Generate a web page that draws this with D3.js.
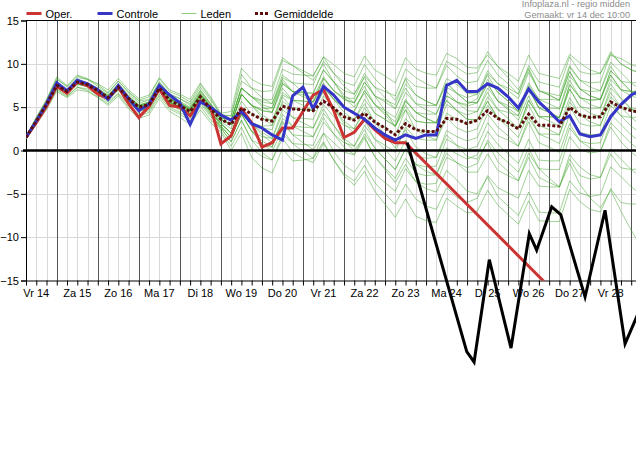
<!DOCTYPE html>
<html><head><meta charset="utf-8">
<script src="https://cdn.jsdelivr.net/npm/d3@7"></script>
<style>
body{margin:0;background:#fff}
svg{display:block}
text{font-family:"Liberation Sans",Arial,sans-serif}
</style>
</head><body>
<svg id="chart" width="636" height="476"></svg>
<script>
// ---------- data ----------
const dagLabels = ["Vr 14","Za 15","Zo 16","Ma 17","Di 18","Wo 19","Do 20","Vr 21","Za 22","Zo 23","Ma 24","Di 25","Wo 26","Do 27","Vr 28"];
const yTicks = [15,10,5,0,-5,-10,-15];
const startUur = 6;   // first value: Vr 14 06:00 (hours since Vr 14 00:00)
const stapUur = 6;    // 6-hourly values

const oper = [1.5,3.2,5.1,7.4,6.6,7.9,7.5,6.5,6.0,7.3,5.4,3.8,5.1,7.1,5.2,5.0,4.0,5.7,5.0,0.75,1.7,4.8,3.2,0.4,0.9,2.6,2.6,4.5,6.4,7.0,4.6,1.5,2.1,3.6,2.4,1.4,0.9,0.9,
  null,null,null,null,null,null,null,null,null,null,null,null,null,null,null,null,null,null,null,null,null,null,-26.4];
const controle = [1.5,3.4,5.4,7.8,6.9,8.1,7.7,7.0,5.9,7.5,6.0,4.6,5.4,7.5,6.4,5.5,3.0,5.6,5.0,4.1,3.5,4.5,3.1,2.6,1.8,1.2,6.3,7.3,4.8,7.4,6.4,5.0,4.3,3.6,2.6,1.8,1.2,1.8,1.4,1.8,1.8,7.5,8.1,6.8,6.8,7.7,7.2,6.2,4.9,7.1,5.6,4.5,3.3,4.0,1.9,1.6,1.8,3.9,5.3,6.4,7.0];
const gemiddelde = [1.5,3.4,5.3,7.5,6.8,7.9,7.6,6.9,6.1,7.3,6.0,5.0,5.3,7.2,5.8,5.2,4.5,6.2,4.8,3.6,3.0,4.9,4.2,3.6,3.4,5.1,4.8,4.7,4.6,5.7,4.9,3.9,3.5,4.3,3.3,2.6,1.8,3.1,2.4,2.2,2.2,3.7,3.6,3.1,3.5,4.6,3.7,3.2,2.5,4.2,2.9,2.9,2.8,5.0,4.1,3.8,3.9,5.6,5.0,4.6,4.4];

// black line (hours since Vr 14 00:00, value)
const zwartUren = [229,263.8,268.1,277,289.7,300.4,304.7,313.5,318.8,333,344.7,356.4,365.8];
const zwartWaarden = [0.9,-23.2,-24.4,-12.6,-22.8,-9.6,-11.5,-6.5,-7.4,-16.9,-6.9,-22.3,-18.0];

const lid01 = [1.5,3.5,5.5,7.8,7.0,8.2,7.8,7.2,6.4,7.7,6.5,5.5,5.8,7.9,6.5,6.0,5.2,7.0,5.4, 3.8,3.5,7.2,6.2,5.8,5.9,9.4,8.8,8.7,8.6,10.8,9.9,8.9,8.5,10.9,9.3,8.6,7.8,10.7,9.4,8.9,8.7,11.2,10.6,9.6,9.5,11.0,9.7,8.9,8.0,11.0,8.9,8.6,8.3,11.1,10.1,9.3,8.9,11.4,10.0,9.3,8.9];
const lid02 = [1.6,3.8,5.9,8.5,7.5,8.7,8.3,7.6,6.7,8.0,6.8,5.8,6.2,8.3,6.8,6.3,5.6,7.6,6.0, 4.1,4.0,8.8,7.2,6.8,6.9,10.4,9.8,9.2,8.6,10.8,8.9,7.4,6.5,8.4,6.3,5.8,5.3,8.4,7.4,7.2,7.2,10.3,9.6,8.8,9.0,11.4,9.7,8.4,7.0,9.5,6.9,6.6,6.3,9.8,8.1,7.8,7.9,11.2,10.0,9.3,8.9];
const lid03 = [1.4,3.3,5.2,7.4,6.9,7.8,7.5,6.7,5.8,7.0,5.7,4.6,5.0,6.9,5.5,5.0,4.6,6.6,5.0, 3.6,3.0,6.5,5.2,4.6,4.4,7.7,6.8,6.7,6.6,9.3,7.9,6.9,6.5,8.9,7.3,6.1,4.8,7.2,5.4,4.7,4.2,6.8,5.6,5.3,6.0,8.9,7.7,7.2,6.5,9.8,7.9,7.6,7.3,10.8,9.1,8.8,8.9,11.0,10.6,9.9,9.5];
const lid04 = [1.5,3.7,5.7,8.2,7.4,8.6,8.2,7.7,7.0,8.3,7.0,6.0,6.4,8.4,7.0,6.5,5.9,7.8,6.2, 4.3,4.5,9.5,8.2,7.6,7.4,10.7,9.8,8.9,8.1,10.0,7.9,6.4,5.5,7.4,5.3,4.6,3.8,6.7,5.4,5.2,5.2,8.3,7.6,6.6,6.5,8.7,6.7,5.7,4.5,7.3,4.9,4.9,4.8,8.6,7.1,6.8,6.9,10.2,9.0,7.8,6.9];
const lid05 = [1.5,3.4,5.3,7.6,6.7,7.9,7.7,7.0,6.2,7.4,6.1,5.2,5.5,7.4,6.0,5.5,4.9,6.5,5.2, 3.8,3.5,7.2,6.2,5.1,4.4,7.2,5.8,5.7,5.6,8.3,6.9,6.1,6.0,8.6,7.3,6.8,6.3,9.4,8.4,7.7,7.2,9.8,8.6,7.8,8.0,10.4,8.7,7.7,6.5,9.3,6.9,6.4,5.8,9.1,7.1,6.3,5.9,8.7,7.0,6.3,5.9];
const lid06 = [1.6,3.5,5.4,7.5,6.9,8.0,7.6,6.9,6.0,7.3,5.9,4.9,5.4,7.3,6.1,5.6,4.8,6.8,5.3, 3.6,3.0,6.5,5.2,4.8,4.9,8.4,7.8,7.7,7.6,10.3,8.9,7.9,7.5,9.9,8.3,7.1,5.8,8.2,6.4,5.7,5.2,7.8,6.6,5.6,5.5,7.7,5.7,5.2,4.5,7.8,5.9,5.9,5.8,9.6,8.1,7.3,6.9,9.7,8.0,6.8,5.9];
const lid07 = [1.4,3.3,5.2,7.3,6.6,7.7,7.4,6.8,6.1,7.2,6.0,5.1,5.3,7.1,5.9,5.3,4.6,6.4,5.0, 3.8,3.5,7.2,6.2,5.3,4.9,7.9,6.8,6.2,5.6,7.8,5.9,4.9,4.5,6.9,5.3,4.3,3.3,5.9,4.4,4.2,4.2,7.3,6.6,6.1,6.5,9.2,7.7,6.9,6.0,9.0,6.9,6.4,5.8,9.1,7.1,6.3,5.9,8.7,7.0,6.8,6.9];
const lid08 = [1.5,3.4,5.3,7.5,6.8,7.9,7.5,6.8,5.9,7.1,5.8,4.8,5.1,7.0,5.6,4.9,4.2,5.9,4.5, 3.1,2.0,5.0,3.2,2.8,2.9,6.4,5.8,5.7,5.6,8.3,6.9,5.9,5.5,7.9,6.3,5.6,4.8,7.7,6.4,5.7,5.2,7.8,6.6,5.6,5.5,7.7,5.7,4.7,3.5,6.3,3.9,3.9,3.8,7.6,6.1,5.8,5.9,9.2,8.0,7.8,7.9];
const lid09 = [1.5,3.4,5.2,7.4,6.7,7.8,7.7,7.0,6.3,7.5,6.2,5.2,5.6,7.5,6.0,5.4,4.7,6.3,4.9, 3.6,3.0,6.5,5.2,4.1,3.4,6.2,4.8,4.7,4.6,7.3,5.9,4.9,4.5,6.9,5.3,4.1,2.8,5.2,3.4,3.2,3.2,6.3,5.6,4.6,4.5,6.7,4.7,4.4,4.0,7.5,5.9,5.4,4.8,8.1,6.1,5.3,4.9,7.7,6.0,4.8,3.9];
const lid10 = [1.7,3.8,5.8,8.3,7.3,8.4,8.2,7.4,6.6,8.0,6.7,5.7,5.9,7.9,6.5,6.0,5.4,7.3,5.8, 4.1,4.0,8.0,7.2,6.1,5.4,8.2,6.8,6.7,6.6,9.3,7.9,6.1,5.0,6.6,4.3,3.6,2.8,5.7,4.4,3.7,3.2,5.8,4.6,4.1,4.5,7.2,5.7,4.9,4.0,7.0,4.9,4.4,3.8,7.1,5.1,4.8,4.9,8.2,7.0,6.8,6.9];
const lid11 = [1.5,3.4,5.3,7.4,6.8,7.9,7.6,6.9,6.1,7.2,6.0,5.0,5.3,7.1,5.8,5.2,4.5,6.2,4.8, 3.3,2.5,5.7,4.2,3.6,3.4,6.7,5.8,5.2,4.6,6.8,4.9,3.9,3.5,5.9,4.3,3.6,2.8,5.7,4.4,3.7,3.2,5.8,4.6,3.6,3.5,5.7,3.7,3.2,2.5,5.8,3.9,3.9,3.8,7.6,6.1,5.8,5.9,9.2,8.0,6.8,5.9];
const lid12 = [1.4,3.3,5.1,7.3,6.6,7.6,7.4,6.7,5.9,7.0,5.8,4.8,5.1,6.9,5.5,4.9,4.2,5.8,4.4, 3.1,2.0,5.0,3.2,2.6,2.4,5.7,4.8,4.7,4.6,7.3,5.9,4.4,3.5,5.4,3.3,2.6,1.8,4.7,3.4,3.2,3.2,6.3,5.6,5.1,5.5,8.2,6.7,5.7,4.5,7.3,4.9,4.4,3.8,7.1,5.1,4.3,3.9,6.7,5.0,4.8,4.9];
const lid13 = [1.5,3.5,5.4,7.6,6.9,8.0,7.6,7.0,6.2,7.4,6.2,5.2,5.5,7.4,6.0,5.5,4.8,6.6,5.2, 3.6,3.0,6.5,5.2,4.6,4.4,7.7,6.8,6.4,6.1,8.5,6.9,5.9,5.5,7.9,6.3,4.6,2.8,4.7,2.4,1.7,1.2,3.8,2.6,2.1,2.5,5.2,3.7,3.2,2.5,5.8,3.9,3.4,2.8,6.1,4.1,3.3,2.9,5.7,4.0,3.8,3.9];
const lid14 = [1.4,3.2,5.0,7.1,6.3,7.3,7.1,6.4,5.6,6.6,5.3,4.2,4.6,6.5,5.0,4.4,3.7,5.4,3.9, 2.8,1.5,4.2,2.2,1.6,1.4,4.7,3.8,3.7,3.6,6.3,4.9,3.4,2.5,4.4,2.3,1.6,0.8,3.7,2.4,2.2,2.2,5.3,4.6,3.6,3.5,5.7,3.7,2.7,1.5,4.3,1.9,1.9,1.8,5.6,4.1,3.8,3.9,7.2,6.0,4.8,3.9];
const lid15 = [1.6,3.5,5.5,7.7,7.0,8.1,7.8,7.1,6.4,7.6,6.3,5.3,5.6,7.6,6.3,5.7,5.0,6.9,5.4, 3.8,3.5,7.2,6.2,5.6,5.4,8.7,7.8,6.7,5.6,7.3,4.9,3.1,2.0,3.6,1.3,0.6,-0.2,2.7,1.4,1.2,1.2,4.3,3.6,3.1,3.5,6.2,4.7,3.7,2.5,5.3,2.9,2.4,1.8,5.1,3.1,2.8,2.9,6.2,5.0,3.8,2.9];
const lid16 = [1.5,3.4,5.2,7.4,6.7,7.8,7.5,6.8,5.9,7.1,5.7,4.7,5.1,7.0,5.5,4.9,4.2,6.0,4.4, 3.1,2.0,5.0,3.2,2.1,1.4,4.2,2.8,2.7,2.6,5.3,3.9,2.9,2.5,4.9,3.3,1.8,0.3,2.4,0.4,-0.4,-0.8,1.8,0.6,0.1,0.5,3.2,1.7,1.2,0.5,3.8,1.9,1.4,0.8,4.1,2.1,1.8,1.9,5.2,4.0,2.8,1.9];
const lid17 = [1.3,3.1,4.9,7.0,6.2,7.3,6.9,6.2,5.4,6.5,5.0,4.0,4.4,6.3,4.8,4.2,3.4,5.1,3.5, 2.6,1.0,3.5,1.2,0.6,0.4,3.7,2.8,2.2,1.6,3.8,1.9,0.9,0.5,2.9,1.3,0.1,-1.2,1.2,-0.6,-0.9,-0.8,2.3,1.6,1.1,1.5,4.2,2.7,1.7,0.5,3.3,0.9,0.4,-0.2,3.1,1.1,0.8,0.9,4.2,3.0,1.8,0.9];
const lid18 = [1.5,3.4,5.2,7.3,6.6,7.7,7.3,6.6,5.8,7.0,5.6,4.5,4.8,6.8,5.3,4.7,3.9,5.6,4.1, 2.8,1.5,4.2,2.2,0.8,-0.1,2.4,0.8,0.7,0.6,3.3,1.9,0.4,-0.5,1.4,-0.7,-2.0,-3.2,-0.9,-2.6,-2.9,-2.8,0.3,-0.4,-1.0,-0.5,2.2,0.7,-0.4,-1.5,1.3,-1.1,-1.2,-1.2,2.6,1.1,0.3,-0.1,2.7,1.0,-0.2,-1.1];
const lid19 = [1.3,3.0,4.7,6.8,6.1,7.0,6.8,6.1,5.2,6.3,4.8,3.7,4.1,6.0,4.5,3.8,3.0,4.7,3.2, 2.1,0.0,2.0,-0.8,-2.0,-2.6,0.2,-1.2,-1.1,-0.9,2.0,0.9,-0.2,-0.5,1.9,0.3,-1.0,-2.2,0.2,-1.6,-2.4,-2.8,-0.3,-1.4,-2.5,-2.5,-0.4,-2.3,-2.9,-3.5,-0.3,-2.1,-2.2,-2.2,1.6,0.1,-0.3,-0.1,3.2,2.0,0.8,-0.1];
const lid20 = [1.5,3.3,5.2,7.4,6.6,7.7,7.4,6.7,5.9,7.0,5.6,4.6,4.9,6.9,5.4,4.8,4.0,5.8,4.2, 2.6,1.0,3.5,1.2,-0.2,-1.1,1.4,-0.2,-0.9,-1.4,0.8,-1.1,-2.7,-3.5,-1.7,-3.7,-5.0,-6.2,-3.9,-5.6,-6.4,-6.8,-4.3,-5.4,-6.0,-5.5,-2.9,-4.3,-4.9,-5.5,-2.3,-4.1,-4.2,-4.2,-0.5,-1.9,-2.8,-3.1,-0.4,-2.0,-2.2,-2.1];
const lid21 = [1.5,3.4,5.3,7.5,6.7,7.8,7.5,6.7,5.8,7.1,5.7,4.7,5.0,7.0,5.6,5.0,4.3,6.0,4.5, 2.3,0.5,2.7,0.2,-0.7,-1.1,1.9,0.8,-0.1,-0.9,1.0,-1.1,-2.9,-4.0,-2.4,-4.7,-6.2,-7.7,-5.6,-7.6,-8.1,-8.3,-5.5,-6.4,-7.2,-7.0,-4.6,-6.3,-7.4,-8.5,-5.8,-8.1,-8.2,-8.2,-4.5,-5.9,-6.8,-7.1,-4.4,-6.0,-6.2,-6.1];
const lid22 = [1.6,3.5,5.3,7.6,6.9,8.0,7.7,7.0,6.1,7.3,5.9,4.9,5.2,7.1,5.7,5.1,4.4,6.1,4.6, 2.8,1.5,4.2,2.2,1.1,0.4,3.2,1.8,0.9,0.1,2.0,-0.1,-1.7,-2.5,-0.7,-2.7,-3.7,-4.7,-2.1,-3.6,-4.4,-4.8,-2.3,-3.4,-4.7,-5.0,-3.1,-5.3,-6.4,-7.5,-4.8,-7.1,-7.2,-7.2,-3.5,-4.9,-5.3,-5.1,-1.9,-3.0,-4.2,-5.1];
const lid23 = [1.5,3.4,5.3,7.5,6.8,7.9,7.6,6.9,6.1,7.3,6.1,5.1,5.4,7.3,5.9,5.3,4.6,6.3,4.8, 3.1,2.0,5.0,3.2,1.8,0.9,3.4,1.8,1.7,1.6,4.3,2.9,1.1,0.0,1.6,-0.7,-2.2,-3.7,-1.6,-3.6,-3.9,-3.8,-0.8,-1.4,-2.0,-1.5,1.2,-0.3,-1.4,-2.5,0.3,-2.1,-3.2,-4.2,-1.5,-3.9,-5.5,-6.6,-4.6,-7.0,-9.2,-11.1];
const lid24 = [1.5,3.5,5.4,7.7,6.9,8.0,7.7,7.0,6.2,7.4,6.1,5.1,5.4,7.3,5.9,5.4,4.7,6.4,5.0, 3.6,3.0,6.5,5.2,3.8,2.9,5.4,3.8,3.2,2.6,4.8,2.9,1.4,0.5,2.4,0.3,-1.0,-2.2,0.2,-1.6,-1.9,-1.8,1.3,0.6,-0.7,-1.0,0.9,-1.3,-2.4,-3.5,-0.8,-3.1,-3.7,-4.2,-1.0,-2.9,-3.3,-3.1,0.2,-1.0,-2.2,-3.1];
const leden = [lid01,lid02,lid03,lid04,lid05,lid06,lid07,lid08,lid09,lid10,lid11,lid12,lid13,lid14,lid15,lid16,lid17,lid18,lid19,lid20,lid21,lid22,lid23,lid24];

// ---------- drawing ----------
const W = 636, H = 476;
const L = 26, T = 20.5, B = 280.5;
const svg = d3.select("#chart");
svg.append("rect").attr("width", W).attr("height", H).attr("fill", "#fff");

const x = d3.scaleLinear().domain([6, 360]).range([L, 631.2]);
const y = d3.scaleLinear().domain([-15, 15]).range([B, T]);
const uur = i => startUur + i * stapUur;

svg.append("defs").append("clipPath").attr("id", "plot")
  .append("rect").attr("x", L).attr("y", T).attr("width", W - L).attr("height", B - T);

// grid
const uren = d3.range(startUur, 367, stapUur);
const g = svg.append("g");
g.selectAll("line.minor").data(uren.filter(h => h % 24 !== 0 && h > 6)).join("line")
  .attr("x1", d => Math.round(x(d)) + 0.5).attr("x2", d => Math.round(x(d)) + 0.5)
  .attr("y1", T).attr("y2", B).attr("stroke", "#d9d9d9").attr("stroke-width", 1);
g.selectAll("line.hgrid").data([10, 5, -5, -10]).join("line")
  .attr("x1", L).attr("x2", W).attr("y1", d => Math.round(y(d)) + 0.5).attr("y2", d => Math.round(y(d)) + 0.5)
  .attr("stroke", "#d9d9d9").attr("stroke-width", 1);
g.selectAll("line.major").data(uren.filter(h => h % 24 === 0)).join("line")
  .attr("x1", d => Math.round(x(d)) + 0.5).attr("x2", d => Math.round(x(d)) + 0.5)
  .attr("y1", T).attr("y2", B).attr("stroke", "#555").attr("stroke-width", 1);

// top border
svg.append("line").attr("x1", L).attr("x2", W).attr("y1", T).attr("y2", T).attr("stroke", "#000").attr("stroke-width", 1);

// y axis
const yAxis = d3.axisLeft(y).tickValues(yTicks).tickSize(5).tickPadding(2).tickFormat(d3.format("d"));
const ya = svg.append("g").attr("transform", `translate(${L},0)`).call(yAxis);
ya.select(".domain").attr("stroke", "#000");
ya.selectAll("text").attr("font-size", 11).attr("fill", "#000").attr("font-family", "Liberation Sans, Arial, sans-serif");

// x axis (6-hourly ticks, labels at noon)
const xAxis = d3.axisBottom(x).tickValues(uren.filter(h => h <= 360)).tickSize(5).tickFormat("");
const xa = svg.append("g").attr("transform", `translate(0,${B})`).call(xAxis);
xa.select(".domain").attr("d", `M${L},0.5H${W}`).attr("stroke", "#000");
svg.append("g").selectAll("text").data(dagLabels).join("text")
  .attr("x", (d, i) => x(12 + 24 * i)).attr("y", 296.5)
  .attr("text-anchor", "middle").attr("font-size", 11).attr("fill", "#000").text(d => d);

// series
const plot = svg.append("g").attr("clip-path", "url(#plot)");
const lijn = d3.line().x(d => x(d[0])).y(d => y(d[1]));
const punten = arr => arr.map((v, i) => [uur(i), v]).filter(p => p[1] !== null);

plot.selectAll("path.lid").data(leden).join("path")
  .attr("d", d => lijn(punten(d))).attr("fill", "none")
  .attr("stroke", "#44a830").attr("stroke-opacity", 0.5).attr("stroke-width", 1);

plot.append("path").attr("d", lijn(punten(oper))).attr("fill", "none")
  .attr("stroke", "#cc3333").attr("stroke-width", 3);
plot.append("path").attr("d", lijn(punten(controle))).attr("fill", "none")
  .attr("stroke", "#3535c8").attr("stroke-width", 3);
plot.append("path").attr("d", lijn(punten(gemiddelde))).attr("fill", "none")
  .attr("stroke", "#5e0d0d").attr("stroke-width", 3).attr("stroke-dasharray", "3,2");

// zero line
svg.append("line").attr("x1", 23).attr("x2", W).attr("y1", y(0)).attr("y2", y(0))
  .attr("stroke", "#000").attr("stroke-width", 2.5);

// black line (not clipped)
svg.append("path").attr("d", lijn(zwartUren.map((h, i) => [h, zwartWaarden[i]])))
  .attr("fill", "none").attr("stroke", "#000").attr("stroke-width", 3);

// legend
const legend = [
  {naam: "Oper.", x: 26.5, kleur: "#cc3333", w: 3, dash: null, op: 1},
  {naam: "Controle", x: 97.5, kleur: "#3535c8", w: 3, dash: null, op: 1},
  {naam: "Leden", x: 181.5, kleur: "#8fcc7e", w: 1, dash: null, op: 1},
  {naam: "Gemiddelde", x: 255, kleur: "#5e0d0d", w: 3, dash: "3,2", op: 1}
];
const lg = svg.append("g").selectAll("g").data(legend).join("g");
lg.append("line").attr("x1", d => d.x).attr("x2", d => d.x + 15).attr("y1", 13.5).attr("y2", 13.5)
  .attr("stroke", d => d.kleur).attr("stroke-width", d => d.w).attr("stroke-opacity", d => d.op)
  .attr("stroke-dasharray", d => d.dash);
lg.append("text").attr("x", d => d.x + 19).attr("y", 17.5).attr("font-size", 11).attr("fill", "#000").text(d => d.naam);

// source text
svg.append("text").attr("x", 630).attr("y", 7.3).attr("text-anchor", "end").attr("font-size", 9.2)
  .attr("fill", "#8c8c8c").text("Infoplaza.nl - regio midden");
svg.append("text").attr("x", 630).attr("y", 18).attr("text-anchor", "end").attr("font-size", 9.2)
  .attr("fill", "#8c8c8c").text("Gemaakt: vr 14 dec 10:00");
</script>
</body></html>
